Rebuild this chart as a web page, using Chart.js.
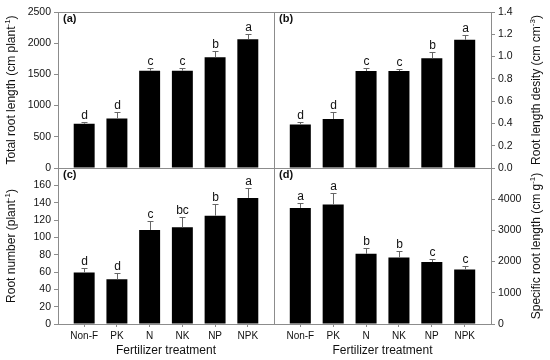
<!DOCTYPE html>
<html>
<head>
<meta charset="utf-8">
<script src="https://cdn.jsdelivr.net/npm/chart.js@4/dist/chart.umd.min.js"></script>
<style>
  body { margin: 0; background: #fff; }
  #wrap { position: relative; width: 550px; height: 360px; }
  #wrap canvas { position: absolute; left: 0; top: 0; }
</style>
</head>
<body>
<div id="wrap">
  <canvas id="pa" width="550" height="360"></canvas>
  <canvas id="pb" width="550" height="360"></canvas>
  <canvas id="pc" width="550" height="360"></canvas>
  <canvas id="pd" width="550" height="360"></canvas>
</div>
<script>
// data (bar = mean, err = +SE)
var categories = ['Non-F', 'PK', 'N', 'NK', 'NP', 'NPK'];

var rootLength    = [710, 795, 1560, 1560, 1775, 2065];
var rootLengthErr = [35, 110, 50, 35, 95, 80];
var rootLengthSig = ['d', 'd', 'c', 'c', 'b', 'a'];

var rootDensity    = [0.39, 0.44, 0.87, 0.87, 0.985, 1.15];
var rootDensityErr = [0.02, 0.06, 0.03, 0.02, 0.055, 0.045];
var rootDensitySig = ['d', 'd', 'c', 'c', 'b', 'a'];

var rootNumber    = [59.5, 51.5, 108.5, 111.5, 125, 145.5];
var rootNumberErr = [5, 7, 10.5, 12, 13, 11];
var rootNumberSig = ['d', 'd', 'c', 'bc', 'b', 'a'];

var specLength    = [3720, 3830, 2250, 2135, 1985, 1750];
var specLengthErr = [170, 375, 180, 200, 95, 95];
var specLengthSig = ['a', 'a', 'b', 'b', 'c', 'c'];

var axisGray = '#8c8c8c';
var fontFam = "'Liberation Sans', Arial, sans-serif";
Chart.defaults.font.family = fontFam;
Chart.defaults.color = '#111';

function drawTitle(ctx, parts, x, y, rotate) {
  var big = '12px ' + fontFam, small = '8px ' + fontFam;
  var w = 0;
  parts.forEach(function (p) { ctx.font = p[1] ? small : big; w += ctx.measureText(p[0]).width; });
  ctx.save();
  ctx.translate(x, y);
  if (rotate) ctx.rotate(-Math.PI / 2);
  ctx.textBaseline = 'middle';
  ctx.textAlign = 'left';
  ctx.fillStyle = '#111';
  var cx = -w / 2;
  parts.forEach(function (p) {
    ctx.font = p[1] ? small : big;
    ctx.fillText(p[0], cx, p[1] ? -4 : 0);
    cx += ctx.measureText(p[0]).width;
  });
  ctx.restore();
}

function panel(id, o) {
  var left = o.side === 'left';
  var top = o.row === 'top';

  var extras = {
    id: 'extras',
    afterDatasetsDraw: function (chart) {
      var ctx = chart.ctx, xs = chart.scales.x, ys = chart.scales.y, a = chart.chartArea;
      ctx.save();
      // error bars (upper only) + letters
      ctx.strokeStyle = '#666';
      ctx.lineWidth = 1;
      o.values.forEach(function (v, i) {
        var x = Math.round(xs.getPixelForValue(i)) + 0.5;
        var yb = ys.getPixelForValue(v);
        var yt = Math.round(ys.getPixelForValue(v + o.err[i])) + 0.5;
        ctx.beginPath();
        ctx.moveTo(x, yb);
        ctx.lineTo(x, yt);
        ctx.moveTo(x - 3, yt);
        ctx.lineTo(x + 3, yt);
        ctx.stroke();
        ctx.fillStyle = '#111';
        ctx.font = '12px ' + fontFam;
        ctx.textAlign = 'center';
        ctx.textBaseline = 'alphabetic';
        ctx.fillText(o.sig[i], x, yt - 4);
      });
      // frame
      ctx.strokeStyle = axisGray;
      ctx.strokeRect(Math.round(a.left) + 0.5, Math.round(a.top) + 0.5,
        Math.round(a.right - a.left), Math.round(a.bottom - a.top));
      // panel tag
      ctx.fillStyle = '#111';
      ctx.font = 'bold 11px ' + fontFam;
      ctx.textAlign = 'left';
      ctx.textBaseline = 'middle';
      ctx.fillText(o.tag, a.left + 5, a.top + 7);
      ctx.restore();
      // axis titles
      var midY = (a.top + a.bottom) / 2;
      drawTitle(ctx, o.title, left ? 12 : 537, midY, true);
      if (!top) drawTitle(ctx, [['Fertilizer treatment', 0]], (a.left + a.right) / 2, 351, false);
    }
  };

  new Chart(document.getElementById(id), {
    type: 'bar',
    data: {
      datasets: [{
        data: o.values.map(function (v, i) { return { x: i, y: v }; }),
        backgroundColor: '#000',
        barPercentage: 0.64,
        categoryPercentage: 1
      }]
    },
    options: {
      responsive: false,
      animation: false,
      layout: {
        padding: {
          left: left ? 0 : 274,
          right: left ? 276 : 0,
          top: top ? 12 : 168,
          bottom: top ? 192 : 0
        }
      },
      plugins: { legend: { display: false }, tooltip: { enabled: false } },
      scales: {
        x: {
          type: 'linear',
          min: -0.8,
          max: 5.8,
          offset: false,
          border: { display: false },
          grid: { offset: false, drawOnChartArea: false, drawTicks: !top, tickLength: 3, color: axisGray },
          afterBuildTicks: function (s) { s.ticks = categories.map(function (c, i) { return { value: i }; }); },
          afterFit: function (s) { s.height = top ? 0 : 36; },
          ticks: {
            display: !top,
            autoSkip: false,
            maxRotation: 0,
            padding: 3,
            font: { size: 10 },
            callback: function (v) { return categories[v]; }
          }
        },
        y: {
          position: o.side,
          min: 0,
          max: o.max,
          border: { display: false },
          grid: { drawOnChartArea: false, drawTicks: true, tickLength: 4, color: axisGray },
          afterFit: function (s) { s.width = left ? 58 : 59; },
          ticks: {
            stepSize: o.step,
            padding: 3,
            font: { size: 10.5 },
            callback: function (v) {
              if (o.hideTop && v === o.max) return '';
              return o.dec ? v.toFixed(o.dec) : v;
            }
          }
        }
      }
    },
    plugins: [extras]
  });
}

panel('pa', { side: 'left', row: 'top', tag: '(a)', values: rootLength, err: rootLengthErr, sig: rootLengthSig,
  max: 2500, step: 500, title: [['Total root length (cm plant', 0], ['-1', 1], [')', 0]] });
panel('pb', { side: 'right', row: 'top', tag: '(b)', values: rootDensity, err: rootDensityErr, sig: rootDensitySig,
  max: 1.4, step: 0.2, dec: 1, title: [['Root length desity (cm cm', 0], ['-3', 1], [')', 0]] });
panel('pc', { side: 'left', row: 'bottom', tag: '(c)', values: rootNumber, err: rootNumberErr, sig: rootNumberSig,
  max: 180, step: 20, hideTop: true, title: [['Root number (plant', 0], ['-1', 1], [')', 0]] });
panel('pd', { side: 'right', row: 'bottom', tag: '(d)', values: specLength, err: specLengthErr, sig: specLengthSig,
  max: 5000, step: 1000, hideTop: true, title: [['Specific root length (cm g', 0], ['-1', 1], [')', 0]] });
</script>
</body>
</html>
